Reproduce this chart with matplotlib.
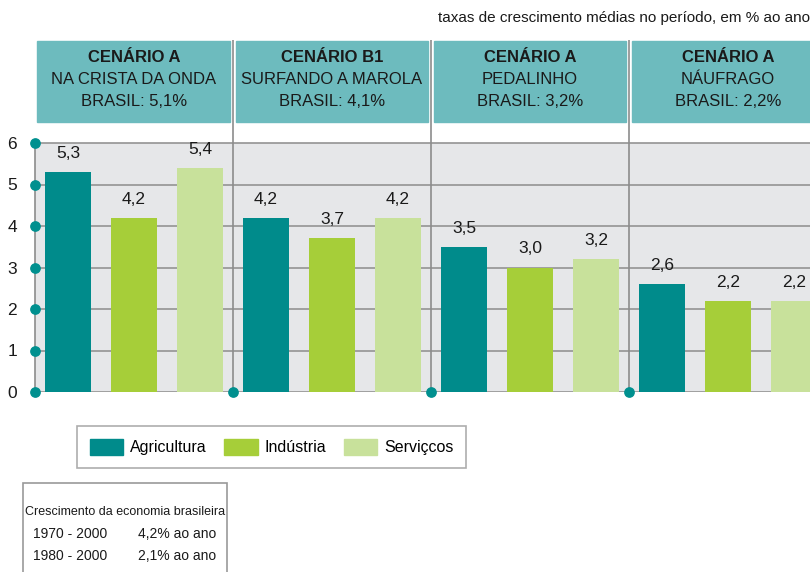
import matplotlib.pyplot as plt
from matplotlib.patches import Rectangle, Patch

plt.rcParams['font.family'] = ['Liberation Sans', 'DejaVu Sans']

# Data
scenarios = ["CENÁRIO A", "CENÁRIO B1", "CENÁRIO A", "CENÁRIO A"]
names = ["NA CRISTA DA ONDA", "SURFANDO A MAROLA", "PEDALINHO", "NÁUFRAGO"]
brasil = ["BRASIL: 5,1%", "BRASIL: 4,1%", "BRASIL: 3,2%", "BRASIL: 2,2%"]
agricultura = [5.3, 4.2, 3.5, 2.6]
industria = [4.2, 3.7, 3.0, 2.2]
servicos = [5.4, 4.2, 3.2, 2.2]
series_names = ["Agricultura", "Indústria", "Serviçcos"]
periods = ["1970 - 2000", "1980 - 2000"]
period_rates = ["4,2% ao ano", "2,1% ao ano"]

colors = ["#008b8b", "#a6ce39", "#c8e19b"]
header_color = "#6dbbbe"
grid_color = "#8c8c8c"
dot_color = "#00908f"
text_color = "#1a1a1a"

fig = plt.figure(figsize=(8.1, 5.72), dpi=100)
ax = fig.add_axes([35 / 810, 180 / 572, 775 / 810, 352 / 572])
ax.set_xlim(0, 775 / 66)
ax.set_ylim(0, 352 / 41.5)

# gray background and grid
ax.axhspan(0, 6, color="#e6e7e9", zorder=0)
ax.hlines(range(7), 0, ax.get_xlim()[1], color=grid_color, lw=1.1, zorder=1)

# bars
w = 0.71
for j, vals in enumerate([agricultura, industria, servicos]):
    xs = [3 * g + j + 0.5 for g in range(len(vals))]
    bars = ax.bar(xs, vals, width=w, color=colors[j], zorder=2)
    for b, v in zip(bars, vals):
        ax.annotate(f"{v:.1f}".replace(".", ","), (b.get_x() + w / 2, v),
                    xytext=(0, 8), textcoords="offset points",
                    ha="center", va="bottom", fontsize=12.5, color=text_color)

# group dividers and headers
for g in range(len(scenarios)):
    if g > 0:
        ax.vlines(3 * g, 0, ax.get_ylim()[1], color=grid_color, lw=1.2, zorder=3)
    x0 = 3 * g + (0.03 if g == 0 else 0.05)
    ax.add_patch(Rectangle((x0, 6.5), 3 * g + 2.95 - x0, 1.95, color=header_color,
                           zorder=3, clip_on=False))
    cx = 3 * g + 1.5
    ax.text(cx, 8.05, scenarios[g], ha="center", va="center", fontsize=12,
            fontweight="bold", color=text_color, zorder=4)
    ax.text(cx, 7.52, names[g], ha="center", va="center", fontsize=12,
            color=text_color, zorder=4)
    ax.text(cx, 6.99, brasil[g], ha="center", va="center", fontsize=12,
            color=text_color, zorder=4)

# dots on the axis
ax.scatter([0] * 7, range(7), s=45, color=dot_color, zorder=5, clip_on=False)
ax.scatter([3, 6, 9], [0, 0, 0], s=45, color=dot_color, zorder=5, clip_on=False)

ax.set_yticks(range(7))
ax.tick_params(axis="y", length=0, pad=13, labelsize=12.5, labelcolor=text_color)
ax.set_xticks([])
for s in ["top", "right", "bottom"]:
    ax.spines[s].set_visible(False)
ax.spines["left"].set_bounds(0, 6)
ax.spines["left"].set_color(grid_color)
ax.spines["left"].set_linewidth(1.2)
ax.patch.set_visible(False)

fig.text(810 / 810, 1 - 18 / 572, "taxas de crescimento médias no período, em % ao ano",
         ha="right", va="center", fontsize=11, color=text_color)

# legend
handles = [Patch(color=c) for c in colors]
leg = fig.legend(handles, series_names, ncol=3, mode="expand", loc="lower left",
                 bbox_to_anchor=(77 / 810, 1 - 468 / 572, 389 / 810, 46 / 572),
                 fontsize=11.5, frameon=True, fancybox=False, handlelength=2.1,
                 handleheight=1.2, handletextpad=0.4, borderpad=0.8,
                 borderaxespad=0)
leg.get_frame().set_edgecolor("#999999")
leg.get_frame().set_linewidth(1.2)

# info box
fig.patches.append(Rectangle((23 / 810, -0.02), 204 / 810, (572 - 483) / 572 + 0.02,
                             transform=fig.transFigure, fill=False,
                             edgecolor="#999999", lw=1.2))
fig.text(125 / 810, 1 - 512 / 572, "Crescimento da economia brasileira",
         ha="center", va="center", fontsize=9, color=text_color)
for i, (p, r) in enumerate(zip(periods, period_rates)):
    y = 1 - (534 + 22 * i) / 572
    fig.text(33 / 810, y, p, ha="left", va="center", fontsize=10, color=text_color)
    fig.text(216 / 810, y, r, ha="right", va="center", fontsize=10, color=text_color)

fig.savefig("out.png", dpi=100)
